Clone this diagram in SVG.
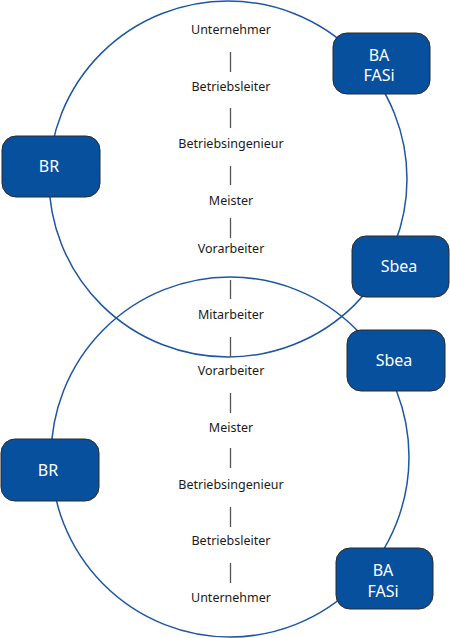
<svg xmlns="http://www.w3.org/2000/svg" width="450" height="638" viewBox="0 0 450 638">
<style>
.ring{fill:none;stroke:#1d56a3;stroke-width:1.5}
.box{fill:#07509e;stroke:#2b2b2b;stroke-width:1}
.bt{font-family:"Noto Sans","Open Sans",sans-serif;font-size:16px;fill:#ffffff;text-anchor:middle}
.lt{font-family:"Noto Sans","Open Sans",sans-serif;font-size:12.5px;fill:#1a1a1a;text-anchor:middle}
.ln{stroke:#555555;stroke-width:1.3}
</style>
<rect width="450" height="638" fill="#ffffff"/>
<g id="circles">
<ellipse class="ring" cx="228" cy="179" rx="179" ry="178"/>
<ellipse class="ring" cx="230" cy="457" rx="179" ry="180"/>
</g>
<g id="connectors">
<line class="ln" x1="230.5" y1="52" x2="230.5" y2="72"/>
<line class="ln" x1="230.5" y1="108" x2="230.5" y2="128"/>
<line class="ln" x1="230.5" y1="166" x2="230.5" y2="185"/>
<line class="ln" x1="230.5" y1="218" x2="230.5" y2="238"/>
<line class="ln" x1="230.5" y1="280" x2="230.5" y2="299"/>
<line class="ln" x1="230.5" y1="337" x2="230.5" y2="357"/>
<line class="ln" x1="230.5" y1="393" x2="230.5" y2="413"/>
<line class="ln" x1="230.5" y1="448" x2="230.5" y2="468"/>
<line class="ln" x1="230.5" y1="507" x2="230.5" y2="527"/>
<line class="ln" x1="230.5" y1="563" x2="230.5" y2="583"/>
</g>
<g id="labels">
<text class="lt" x="231" y="34">Unternehmer</text>
<text class="lt" x="231" y="91">Betriebsleiter</text>
<text class="lt" x="231" y="148">Betriebsingenieur</text>
<text class="lt" x="231" y="205">Meister</text>
<text class="lt" x="231" y="253">Vorarbeiter</text>
<text class="lt" x="231" y="319">Mitarbeiter</text>
<text class="lt" x="231" y="375">Vorarbeiter</text>
<text class="lt" x="231" y="432">Meister</text>
<text class="lt" x="231" y="489">Betriebsingenieur</text>
<text class="lt" x="231" y="545">Betriebsleiter</text>
<text class="lt" x="231" y="602">Unternehmer</text>
</g>
<g id="top-ba-fasi">
<rect class="box" x="333" y="33" width="97" height="61" rx="14"/>
<text class="bt" x="379" y="61">BA</text>
<text class="bt" x="379" y="81">FASi</text>
</g>
<g id="top-br">
<rect class="box" x="2" y="136" width="98" height="61" rx="14"/>
<text class="bt" x="49" y="172">BR</text>
</g>
<g id="top-sbea">
<rect class="box" x="352" y="236" width="97" height="61" rx="14"/>
<text class="bt" x="399" y="272">Sbea</text>
</g>
<g id="bottom-sbea">
<rect class="box" x="347" y="330" width="98" height="61" rx="14"/>
<text class="bt" x="394" y="366">Sbea</text>
</g>
<g id="bottom-br">
<rect class="box" x="1" y="439" width="98" height="62" rx="14"/>
<text class="bt" x="48" y="476">BR</text>
</g>
<g id="bottom-ba-fasi">
<rect class="box" x="336" y="548" width="97" height="61" rx="14"/>
<text class="bt" x="383" y="576">BA</text>
<text class="bt" x="383" y="597">FASi</text>
</g>
</svg>
